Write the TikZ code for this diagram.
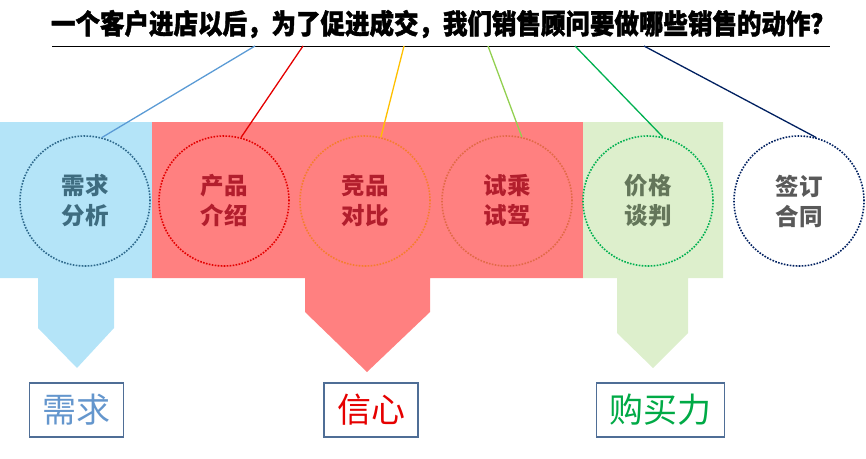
\documentclass[tikz,border=0pt]{standalone}
\usepackage{fontspec}
\usepackage{graphicx}
\usepackage{tikz}
\newfontfamily\cjk{Noto Sans CJK SC}
\newfontfamily\cjkheavy[BoldFeatures={FakeBold=1.6}]{Noto Sans CJK SC}

\definecolor{bandBlue}{RGB}{180,228,248}
\definecolor{bandRed}{RGB}{255,128,128}
\definecolor{bandGreen}{RGB}{221,239,204}
\definecolor{lineBlue}{RGB}{91,155,213}
\definecolor{lineRed}{RGB}{228,0,0}
\definecolor{lineYellow}{RGB}{255,192,0}
\definecolor{lineLime}{RGB}{146,208,80}
\definecolor{lineGreen}{RGB}{0,176,80}
\definecolor{lineNavy}{RGB}{0,32,96}
\definecolor{dotBlue}{RGB}{46,105,140}
\definecolor{dotOrange}{RGB}{245,125,45}
\definecolor{dotCoral}{RGB}{225,105,70}
\definecolor{textTeal}{RGB}{62,108,128}
\definecolor{textRed}{RGB}{178,30,45}
\definecolor{textOlive}{RGB}{100,118,90}
\definecolor{textGray}{RGB}{89,89,89}
\definecolor{goalBlue}{RGB}{100,150,205}
\definecolor{goalRed}{RGB}{230,0,0}
\definecolor{goalGreen}{RGB}{0,170,70}
\definecolor{boxEdge}{RGB}{79,110,150}

\tikzset{
  stageCircle/.style 2 args={circle, draw=#1, text=#2, line width=1.6pt,
    dash pattern={on 1.6pt off 1.4pt}, minimum size=130pt, inner sep=0pt,
    align=center, font=\cjk\bfseries\fontsize{23.5}{30}\selectfont},
  goalBox/.style={draw=boxEdge, line width=1.2pt, fill=white, text=#1,
    minimum height=54pt, inner xsep=13pt, font=\cjk\fontsize{34}{34}\selectfont},
  askLine/.style={line width=1.3pt}
}

\begin{document}
\begin{tikzpicture}[x=1pt, y=-1pt]
    \useasboundingbox (0,0) rectangle (866,458);

    % bands with their arrows
    \fill [bandBlue] (0,122) -- (152,122) -- (152,278) -- (114,278) -- (114,328)
        -- (77,368) -- (38,328) -- (38,278) -- (0,278) -- cycle;
    \fill [bandRed] (152,122) -- (583,122) -- (583,278) -- (430,278) -- (430,312)
        -- (367,372) -- (305,312) -- (305,278) -- (152,278) -- cycle;
    \fill [bandGreen] (583,122) -- (723,122) -- (723,278) -- (688,278) -- (688,333)
        -- (653,368) -- (617,333) -- (617,278) -- (583,278) -- cycle;

    % question
    \node [font=\cjkheavy\bfseries\fontsize{24.5}{24.5}\selectfont] (title) at (443,24)
        {\scalebox{1}[1.12]{一个客户进店以后，为了促进成交，我们销售顾问要做哪些销售的动作？}};
    \coordinate (lineL) at (52,46);
    \coordinate (lineR) at (830,46);
    \draw [line width=1pt] (lineL) -- (lineR);

    % steps
    \node [stageCircle={dotBlue}{textTeal}] (need) at (85,201) {需求\\分析};
    \node [stageCircle={lineRed}{textRed}] (product) at (224,201) {产品\\介绍};
    \node [stageCircle={dotOrange}{textRed}] (compare) at (365,201) {竞品\\对比};
    \node [stageCircle={dotCoral}{textRed}] (drive) at (507,201) {试乘\\试驾};
    \node [stageCircle={lineGreen}{textOlive}] (price) at (648,201) {价格\\谈判};
    \node [stageCircle={lineNavy}{textGray}, fill=white] (sign) at (799,201) {签订\\合同};

    % from the question to each step
    \coordinate (q1) at (255,46);
    \coordinate (q2) at (303,46);
    \coordinate (q3) at (404,46);
    \coordinate (q4) at (488,46);
    \coordinate (q5) at (575,46);
    \coordinate (q6) at (644,46);
    \draw [askLine, lineBlue] (q1) -- (need.75);
    \draw [askLine, lineRed] (q2) -- (product.75);
    \draw [askLine, lineYellow] (q3) -- (compare.76);
    \draw [askLine, lineLime] (q4) -- (drive.77);
    \draw [askLine, lineGreen] (q5) -- (price.77);
    \draw [askLine, lineNavy] (q6) -- (sign.75);

    % what the customer gets
    \node [goalBox=goalBlue] (wish) at (76.5,410) {需求};
    \node [goalBox=goalRed] (trust) at (371,410) {信心};
    \node [goalBox=goalGreen] (budget) at (660.5,410) {购买力};
\end{tikzpicture}
\end{document}
